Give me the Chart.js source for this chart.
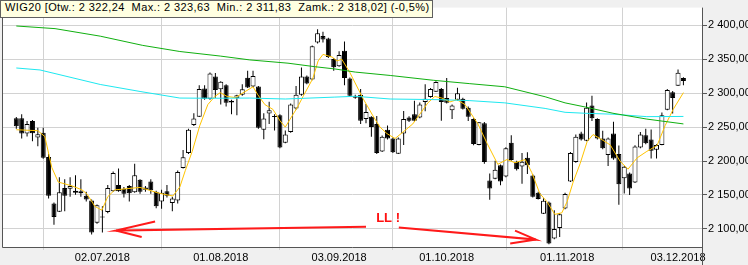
<!DOCTYPE html>
<html>
<head>
<meta charset="utf-8">
<script src="https://cdn.jsdelivr.net/npm/chart.js@4.4.1/dist/chart.umd.min.js"></script>
<style>
    html, body { margin: 0; padding: 0; background: #f0f0f0; }
    #wrap { position: relative; width: 748px; height: 265px; }
    #title {
        position: absolute; left: 0; top: 0;
        height: 16px; line-height: 17px;
        padding: 0 2px 0 4px;
        background: #ffffe1; border: 1px solid #606060;
        font: 11px "Liberation Sans", Arial, sans-serif;
        letter-spacing: 0.4px;
        white-space: pre; color: #000;
    }
</style>
</head>
<body>
<div id="wrap">
    <canvas id="wigChart" width="748" height="265"></canvas>
    <div id="title"></div>
</div>
<script>
// daily candles, index 0 = 08.06.2018 ... 124 = 04.12.2018
const opens = [2263.2, 2263.2, 2240.4, 2259.0, 2234.7, 2241.8, 2206.1, 2137.5, 2125.4, 2160.4,
    2159.0, 2156.1, 2155.4, 2149.0, 2141.8, 2109.0, 2117.5, 2124.7, 2155.4, 2164.7,
    2159.0, 2163.2, 2154.0, 2172.5, 2161.1, 2169.7, 2154.7, 2140.4, 2155.4, 2138.2,
    2141.8, 2189.7, 2211.8, 2253.2, 2265.4, 2306.8, 2291.8, 2324.7, 2305.7, 2311.8,
    2286.1, 2292.5, 2297.5, 2322.8, 2309.7, 2309.7, 2246.1, 2270.0, 2265.4, 2267.5,
    2227.1, 2242.8, 2277.5, 2297.5, 2324.7, 2320.0, 2374.7, 2384.2, 2380.4, 2350.4,
    2339.7, 2362.5, 2321.8, 2295.4, 2297.5, 2261.8, 2265.1, 2254.7, 2214.2, 2246.1,
    2233.2, 2210.8, 2240.4, 2264.2, 2269.0, 2264.2, 2287.1, 2294.2, 2302.2, 2306.1,
    2292.8, 2274.7, 2290.4, 2291.8, 2278.5, 2261.8, 2223.7, 2255.7, 2171.4, 2173.7,
    2193.7, 2177.1, 2227.1, 2199.0, 2191.8, 2204.7, 2178.5, 2153.2, 2122.2, 2139.0,
    2085.7, 2101.4, 2130.0, 2170.0, 2198.5, 2240.4, 2230.0, 2281.8, 2261.8, 2233.2,
    2209.0, 2240.4, 2210.4, 2174.7, 2181.8, 2168.2, 2220.0, 2238.0, 2231.8, 2216.5,
    2223.7, 2275.4, 2301.4, 2310.8, 2322.24];
const highs = [2264.7, 2269.0, 2259.0, 2260.4, 2249.0, 2249.0, 2210.4, 2139.0, 2176.1, 2173.2,
    2176.1, 2179.0, 2173.2, 2154.7, 2143.2, 2136.1, 2133.2, 2164.7, 2184.7, 2189.0,
    2161.8, 2164.7, 2196.1, 2173.2, 2163.2, 2173.2, 2156.1, 2157.5, 2164.7, 2147.5,
    2186.1, 2216.1, 2247.5, 2270.4, 2311.8, 2311.8, 2330.4, 2329.7, 2317.5, 2313.2,
    2290.4, 2297.5, 2313.2, 2333.2, 2333.2, 2310.4, 2270.4, 2287.5, 2269.0, 2269.0,
    2245.1, 2284.7, 2310.4, 2338.0, 2326.1, 2370.4, 2394.2, 2390.4, 2381.8, 2351.8,
    2361.8, 2376.1, 2323.2, 2297.5, 2306.1, 2284.2, 2266.1, 2266.5, 2237.5, 2252.2,
    2234.7, 2234.7, 2273.7, 2266.1, 2289.0, 2286.1, 2313.2, 2307.5, 2317.5, 2307.5,
    2322.2, 2283.2, 2308.0, 2293.2, 2280.4, 2263.2, 2257.5, 2257.5, 2181.8, 2200.4,
    2194.7, 2220.4, 2238.0, 2200.4, 2211.8, 2212.8, 2180.4, 2154.7, 2145.1, 2140.4,
    2127.5, 2123.2, 2153.2, 2213.2, 2239.0, 2243.2, 2286.1, 2296.1, 2263.2, 2244.7,
    2234.7, 2258.0, 2222.8, 2193.2, 2183.2, 2223.2, 2242.8, 2247.5, 2246.5, 2224.7,
    2271.4, 2306.1, 2303.2, 2334.7, 2323.63];
const lows = [2247.5, 2233.2, 2236.1, 2229.0, 2221.8, 2203.2, 2144.7, 2106.1, 2124.7, 2126.1,
    2147.5, 2150.4, 2147.5, 2140.4, 2091.8, 2107.5, 2094.7, 2123.2, 2154.7, 2154.7,
    2146.1, 2140.4, 2153.2, 2151.8, 2154.7, 2151.8, 2130.4, 2129.7, 2146.1, 2126.1,
    2137.5, 2189.0, 2210.4, 2251.8, 2264.7, 2290.4, 2290.4, 2293.2, 2283.2, 2280.4,
    2269.0, 2267.5, 2296.1, 2307.5, 2309.0, 2247.5, 2232.2, 2254.7, 2245.1, 2219.0,
    2226.1, 2241.8, 2276.1, 2296.1, 2313.2, 2319.0, 2373.2, 2374.7, 2351.8, 2333.2,
    2339.0, 2311.8, 2294.7, 2291.8, 2254.7, 2255.7, 2235.7, 2210.4, 2213.2, 2231.8,
    2211.8, 2210.4, 2223.7, 2257.5, 2257.5, 2263.2, 2273.2, 2293.2, 2301.8, 2259.4,
    2284.7, 2261.8, 2289.0, 2276.1, 2259.0, 2223.2, 2223.2, 2196.1, 2142.8, 2173.2,
    2164.2, 2176.1, 2200.4, 2186.1, 2166.5, 2180.8, 2146.1, 2143.2, 2121.8, 2077.5,
    2084.7, 2088.0, 2129.0, 2169.0, 2197.5, 2230.4, 2229.0, 2259.0, 2231.8, 2217.5,
    2192.8, 2201.8, 2135.7, 2152.2, 2150.0, 2167.5, 2219.0, 2224.7, 2203.7, 2203.7,
    2223.2, 2274.7, 2270.0, 2310.4, 2311.83];
const closes = [2251.4, 2240.4, 2254.7, 2241.1, 2239.4, 2204.7, 2149.0, 2117.5, 2154.0, 2149.0,
    2163.2, 2153.2, 2152.5, 2143.2, 2094.7, 2134.7, 2116.8, 2160.4, 2182.5, 2155.4,
    2151.8, 2152.5, 2178.9, 2154.7, 2157.5, 2156.8, 2133.2, 2153.2, 2149.0, 2144.7,
    2184.0, 2205.4, 2246.1, 2262.5, 2306.1, 2291.8, 2329.0, 2304.7, 2316.8, 2285.7,
    2289.0, 2296.8, 2305.7, 2308.5, 2325.4, 2249.0, 2262.8, 2274.7, 2264.7, 2220.0,
    2239.0, 2283.2, 2297.5, 2324.7, 2314.2, 2369.0, 2388.2, 2379.0, 2353.2, 2338.2,
    2356.1, 2322.5, 2296.1, 2293.2, 2259.4, 2272.2, 2250.0, 2211.8, 2235.7, 2233.2,
    2212.8, 2233.2, 2261.8, 2259.4, 2259.4, 2283.2, 2291.8, 2306.1, 2316.5, 2287.1,
    2285.7, 2281.8, 2300.0, 2277.1, 2265.1, 2225.1, 2257.1, 2198.5, 2159.4, 2187.1,
    2170.0, 2219.0, 2201.4, 2188.0, 2199.0, 2193.7, 2147.5, 2144.2, 2141.4, 2078.5,
    2100.0, 2121.4, 2151.4, 2211.8, 2235.7, 2231.8, 2278.5, 2263.2, 2233.2, 2219.0,
    2233.2, 2203.7, 2165.7, 2191.4, 2159.4, 2221.4, 2239.0, 2226.1, 2215.1, 2223.7,
    2267.5, 2304.7, 2292.8, 2330.0, 2318.02];

// moving averages: [candle index, value]
const longAvg = [[0, 2399.0], [7.2, 2395.1], [15.6, 2384.0], [23.5, 2370.4], [30.4, 2361.4],
    [37.9, 2354.7], [43.4, 2349.0], [50.5, 2344.2], [55.5, 2339.0], [59.2, 2335.7], [63, 2331.1],
    [69.5, 2326.1], [77.5, 2319.0], [84.3, 2314.0], [90.8, 2309.4], [98.3, 2294.7], [102, 2285.7],
    [105.7, 2279.7], [110.9, 2270.4], [117.2, 2261.8], [124, 2254.7]];
const midAvg = [[0, 2337.1], [4.4, 2334.2], [15.6, 2312.8], [23, 2302.5], [30.4, 2292.8],
    [36, 2292.5], [43.4, 2292.8], [50, 2291.4], [59.2, 2294.2], [63, 2295.4], [69.5, 2291.4],
    [78.8, 2290.4], [84.3, 2289.0], [90.8, 2285.7], [98.3, 2277.5], [102, 2271.8], [105.7, 2270.4],
    [110.9, 2269.0], [117.2, 2265.4], [124, 2265.7]];
const shortAvg = [[0, 2246.1], [4, 2244.7], [5.3, 2236.1], [6.6, 2190.4], [7.8, 2169.0],
    [10.4, 2163.2], [12.2, 2157.5], [13.1, 2151.8], [14.6, 2133.2], [15.9, 2127.5], [17, 2147.5],
    [18.3, 2157.5], [23, 2161.1], [26.7, 2152.2], [29.1, 2148.5], [30.4, 2161.8], [31.4, 2185.7],
    [32.7, 2214.2], [34.1, 2252.2], [35.6, 2283.2], [36.9, 2295.1], [37.9, 2300.8], [39.2, 2295.1],
    [40.7, 2293.5], [42.5, 2302.2], [44, 2309.4], [44.9, 2297.5], [46.2, 2283.2], [47.7, 2276.1],
    [49, 2259.4], [50, 2250.0], [50.9, 2261.8], [52.2, 2278.5], [53.3, 2295.1], [55.1, 2321.4],
    [56.1, 2347.5], [57, 2357.1], [58.7, 2353.2], [59.6, 2347.5], [60.5, 2350.0], [62, 2330.4],
    [64.4, 2292.8], [66.3, 2266.5], [67.6, 2250.0], [68.9, 2240.4], [70.4, 2233.2], [71.9, 2242.8],
    [73.7, 2254.7], [75, 2269.0], [76.5, 2285.7], [77.8, 2295.1], [79.1, 2292.8], [80.6, 2287.1],
    [81.9, 2290.4], [83.4, 2283.2], [85.8, 2254.7], [87.5, 2226.1], [89.5, 2195.1], [91.2, 2202.2],
    [92.7, 2197.5], [94.6, 2202.2], [95.8, 2183.2], [97.3, 2152.2], [98.6, 2140.4], [100.1, 2121.4],
    [101.4, 2123.7], [102.4, 2140.4], [103.5, 2168.9], [104.8, 2196.1], [106.1, 2228.5],
    [107.2, 2239.0], [108.5, 2233.2], [110.4, 2223.7], [112.2, 2200.0], [113.7, 2188.0],
    [115.4, 2204.7], [117.2, 2214.2], [119.1, 2222.8], [120.6, 2252.2], [122.1, 2276.1], [124, 2300.8]];

// hand drawn red arrows and the note between them
const arrowLeft = [[25.8, 2110.8], [18.5, 2097.5], [65.0, 2103.2]];
const arrowLeftBarb = [[18.5, 2097.5], [23.3, 2087.9]];
const arrowRight = [[92.7, 2097.5], [96.6, 2084.2], [71.1, 2102.2]];
const arrowRightBarb = [[96.6, 2084.2], [91.8, 2078.5]];
const noteText = 'LL !';
const notePos = [69.1, 2114.7];

const xTickIdx = [16, 38, 60, 80, 102.4, 123];
const xTickLabels = ['02.07.2018', '01.08.2018', '03.09.2018', '01.10.2018', '01.11.2018', '03.12.2018'];
const yTickValues = [2100, 2150, 2200, 2250, 2300, 2350, 2400];
const yTickLabels = ['2 100,00', '2 150,00', '2 200,00', '2 250,00', '2 300,00', '2 350,00', '2 400,00'];

function plNum(v) {
    const parts = v.toFixed(2).split('.');
    return parts[0].replace(/\B(?=(\d{3})+(?!\d))/g, ' ') + ',' + parts[1];
}

const last = closes.length - 1;
const change = (closes[last] / closes[last - 1] - 1) * 100;
document.getElementById('title').textContent =
    'WIG20 [Otw.: ' + plNum(opens[last]) + '  Max.: ' + plNum(highs[last]) +
    '  Min.: ' + plNum(lows[last]) + '  Zamk.: ' + plNum(closes[last]) + '] (' +
    change.toFixed(1).replace('.', ',') + '%)';

const toXY = arr => arr.map(p => ({ x: p[0], y: p[1] }));
const axisFont = { family: '"Liberation Sans Narrow", "Arial Narrow", sans-serif', size: 11 };

const lineSet = (data, color, width, order) => ({
    type: 'line', data: toXY(data), borderColor: color, borderWidth: width,
    pointRadius: 0, tension: 0, fill: false, order: order
});

const backdrop = {
    id: 'backdrop',
    beforeDraw(chart) {
        const { ctx, chartArea: a } = chart;
        ctx.save();
        ctx.fillStyle = '#f0f0f0';
        ctx.fillRect(0, 0, chart.width, chart.height);
        ctx.fillStyle = '#ffffff';
        ctx.fillRect(a.left, a.top, a.right - a.left, a.bottom - a.top);
        ctx.restore();
    },
    afterDatasetsDraw(chart) {
        const { ctx, scales } = chart;
        ctx.save();
        ctx.fillStyle = '#ff1010';
        ctx.font = 'bold 13px "Liberation Sans Narrow", "Arial Narrow", sans-serif';
        ctx.textAlign = 'center';
        ctx.textBaseline = 'middle';
        ctx.fillText(noteText, scales.x.getPixelForValue(notePos[0]), scales.y.getPixelForValue(notePos[1]));
        ctx.restore();
    },
    afterDraw(chart) {
        const { ctx, chartArea: a } = chart;
        ctx.save();
        ctx.strokeStyle = '#555555';
        ctx.lineWidth = 1;
        ctx.beginPath();
        ctx.moveTo(a.left + 0.5, a.top);
        ctx.lineTo(a.left + 0.5, a.bottom + 0.5);
        ctx.lineTo(a.right - 0.5, a.bottom + 0.5);
        ctx.moveTo(a.right - 0.5, a.top);
        ctx.lineTo(a.right - 0.5, chart.height);
        ctx.stroke();
        ctx.restore();
    }
};

new Chart(document.getElementById('wigChart'), {
    type: 'bar',
    data: {
        datasets: [
            lineSet(arrowLeft, '#ff1a1a', 2, 0),
            lineSet(arrowLeftBarb, '#ff1a1a', 2, 0),
            lineSet(arrowRight, '#ff1a1a', 2, 0),
            lineSet(arrowRightBarb, '#ff1a1a', 2, 0),
            lineSet(longAvg, '#10b010', 1, 1),
            lineSet(midAvg, '#1ee8f0', 1, 1),
            lineSet(shortAvg, '#ffc400', 1, 1),
            {
                // candle bodies
                data: opens.map((o, i) => ({ x: i, y: [o, closes[i]] })),
                backgroundColor: closes.map((c, i) => c >= opens[i] ? '#ffffff' : '#000000'),
                borderColor: '#000000',
                borderWidth: 1,
                borderSkipped: false,
                inflateAmount: 0,
                minBarLength: 1,
                barThickness: 5,
                grouped: false,
                order: 2
            },
            {
                // wicks
                data: lows.map((l, i) => ({ x: i, y: [l, highs[i]] })),
                backgroundColor: '#000000',
                borderWidth: 0,
                inflateAmount: 0,
                barThickness: 1,
                grouped: false,
                order: 3
            }
        ]
    },
    options: {
        responsive: false,
        animation: false,
        events: [],
        layout: { padding: { left: 2, top: 0, right: 0, bottom: 0 } },
        plugins: { legend: { display: false }, tooltip: { enabled: false } },
        scales: {
            x: {
                type: 'linear',
                min: -2.66,
                max: 127.64,
                offset: false,
                afterBuildTicks: s => { s.ticks = xTickIdx.map(v => ({ value: v })); },
                afterFit: s => { s.height = 18; },
                ticks: {
                    autoSkip: false, maxRotation: 0, padding: 1,
                    font: axisFont, color: '#000',
                    callback: (v, i) => xTickLabels[i]
                },
                grid: { color: '#d2d2d2', tickLength: 3, tickColor: '#d2d2d2' },
                border: { display: false }
            },
            y: {
                position: 'right',
                min: 2073.3,
                max: 2426.1,
                afterBuildTicks: s => { s.ticks = yTickValues.map(v => ({ value: v })); },
                afterFit: s => { s.width = 45; },
                ticks: {
                    padding: 1, font: axisFont, color: '#000',
                    callback: (v, i) => yTickLabels[i]
                },
                grid: { color: '#d2d2d2', tickLength: 4, tickColor: '#555555' },
                border: { display: false }
            }
        }
    },
    plugins: [backdrop]
});
</script>
</body>
</html>
